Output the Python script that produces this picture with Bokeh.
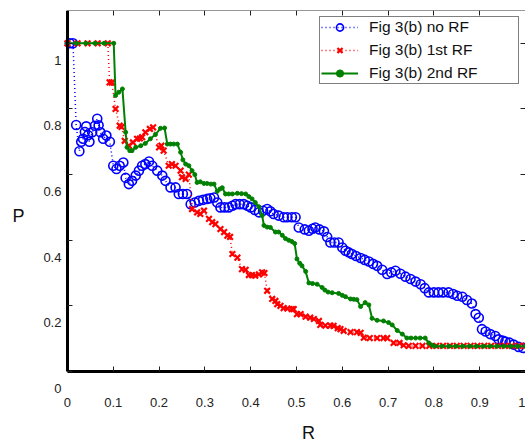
from bokeh.plotting import figure
from bokeh.models import (Range1d, LinearAxis, FixedTicker, Label, Legend, LegendItem)
from bokeh.embed import file_html
from bokeh.resources import INLINE

# ---------------- data ----------------
no_rf = [(0.005, 1.0), (0.012, 1.0), (0.019, 0.751), (0.026, 0.671), (0.030, 0.700),
         (0.034, 0.709), (0.038, 0.730), (0.041, 0.747), (0.045, 0.720), (0.048, 0.700),
         (0.054, 0.729), (0.060, 0.749), (0.065, 0.770), (0.068, 0.750), (0.072, 0.729),
         (0.078, 0.709), (0.085, 0.719), (0.0925, 0.700), (0.100, 0.627), (0.107, 0.617),
         (0.114, 0.627), (0.122, 0.637), (0.127, 0.590), (0.134, 0.571), (0.141, 0.581),
         (0.149, 0.597), (0.156, 0.612), (0.163, 0.627), (0.170, 0.632), (0.178, 0.640),
         (0.185, 0.627), (0.196, 0.612), (0.207, 0.597), (0.214, 0.581), (0.225, 0.561),
         (0.236, 0.561), (0.243, 0.541), (0.252, 0.541), (0.261, 0.541), (0.269, 0.510),
         (0.278, 0.515), (0.287, 0.520), (0.296, 0.523), (0.305, 0.526), (0.312, 0.528),
         (0.320, 0.530), (0.327, 0.515), (0.334, 0.500), (0.343, 0.500), (0.352, 0.500),
         (0.360, 0.505), (0.367, 0.510), (0.376, 0.510), (0.385, 0.510), (0.393, 0.505),
         (0.400, 0.500), (0.409, 0.492), (0.418, 0.485), (0.427, 0.490), (0.436, 0.495),
         (0.443, 0.488), (0.450, 0.480), (0.461, 0.475), (0.472, 0.470), (0.480, 0.470),
         (0.490, 0.470), (0.498, 0.470), (0.505, 0.439), (0.518, 0.433), (0.527, 0.429),
         (0.535, 0.435), (0.541, 0.439), (0.550, 0.433), (0.560, 0.427), (0.567, 0.410),
         (0.574, 0.393), (0.583, 0.393), (0.592, 0.393), (0.600, 0.378), (0.607, 0.368),
         (0.614, 0.363), (0.621, 0.358), (0.630, 0.352), (0.640, 0.346), (0.649, 0.340),
         (0.658, 0.335), (0.667, 0.328), (0.676, 0.322), (0.687, 0.310), (0.698, 0.297),
         (0.707, 0.302), (0.716, 0.307), (0.727, 0.298), (0.738, 0.289), (0.749, 0.282),
         (0.760, 0.274), (0.771, 0.266), (0.780, 0.254), (0.789, 0.241), (0.800, 0.241),
         (0.810, 0.241), (0.820, 0.241), (0.832, 0.241), (0.842, 0.236), (0.851, 0.231),
         (0.862, 0.228), (0.872, 0.218), (0.883, 0.207), (0.891, 0.175), (0.898, 0.164),
         (0.905, 0.129), (0.913, 0.122), (0.923, 0.114), (0.934, 0.108), (0.941, 0.098),
         (0.950, 0.094), (0.956, 0.091), (0.965, 0.088), (0.974, 0.082), (0.985, 0.075),
         (0.995, 0.072)]

rf1 = [(0.0, 1.0), (0.022, 1.0), (0.044, 1.0), (0.066, 1.0), (0.088, 1.0),
       (0.092, 0.881), (0.097, 0.880), (0.105, 0.800), (0.114, 0.749), (0.118, 0.745),
       (0.125, 0.703), (0.134, 0.688), (0.143, 0.698), (0.152, 0.709), (0.158, 0.710),
       (0.163, 0.714), (0.170, 0.729), (0.180, 0.739), (0.187, 0.744), (0.200, 0.683),
       (0.205, 0.688), (0.210, 0.673), (0.221, 0.627), (0.228, 0.632), (0.236, 0.627),
       (0.247, 0.612), (0.250, 0.592), (0.258, 0.587), (0.265, 0.600), (0.272, 0.495),
       (0.283, 0.485), (0.290, 0.480), (0.298, 0.490), (0.309, 0.465), (0.316, 0.455),
       (0.323, 0.449), (0.334, 0.434), (0.342, 0.425), (0.349, 0.414), (0.355, 0.410),
       (0.360, 0.358), (0.371, 0.347), (0.381, 0.312), (0.389, 0.310), (0.396, 0.294),
       (0.403, 0.294), (0.410, 0.292), (0.418, 0.296), (0.425, 0.302), (0.430, 0.300),
       (0.436, 0.246), (0.447, 0.221), (0.454, 0.215), (0.458, 0.205), (0.465, 0.200),
       (0.472, 0.193), (0.480, 0.192), (0.490, 0.190), (0.494, 0.190), (0.501, 0.175),
       (0.509, 0.175), (0.520, 0.167), (0.530, 0.164), (0.538, 0.160), (0.549, 0.154),
       (0.552, 0.142), (0.563, 0.140), (0.574, 0.140), (0.581, 0.139), (0.590, 0.132),
       (0.596, 0.129), (0.603, 0.124), (0.618, 0.120), (0.632, 0.120), (0.640, 0.118),
       (0.647, 0.103), (0.660, 0.102), (0.676, 0.102), (0.690, 0.102), (0.698, 0.102),
       (0.712, 0.087), (0.725, 0.087), (0.734, 0.080), (0.745, 0.078), (0.760, 0.078),
       (0.775, 0.078), (0.790, 0.078), (0.805, 0.078), (0.820, 0.078), (0.835, 0.078),
       (0.850, 0.078), (0.865, 0.078), (0.880, 0.078), (0.895, 0.078), (0.910, 0.078),
       (0.925, 0.078), (0.940, 0.078), (0.955, 0.078), (0.970, 0.078), (0.985, 0.078),
       (1.0, 0.078)]

rf2 = [(0.0, 1.0), (0.020, 1.0), (0.040, 1.0), (0.060, 1.0), (0.080, 1.0), (0.101, 1.0),
       (0.105, 0.841), (0.112, 0.851), (0.120, 0.861), (0.127, 0.729), (0.130, 0.683),
       (0.136, 0.673), (0.141, 0.673), (0.149, 0.683), (0.160, 0.688), (0.170, 0.695),
       (0.181, 0.709), (0.192, 0.722), (0.203, 0.741), (0.212, 0.742), (0.218, 0.693),
       (0.225, 0.693), (0.232, 0.693), (0.240, 0.693), (0.247, 0.668), (0.252, 0.645),
       (0.258, 0.632), (0.265, 0.627), (0.272, 0.612), (0.278, 0.600), (0.283, 0.576),
       (0.290, 0.578), (0.298, 0.573), (0.305, 0.573), (0.313, 0.571), (0.320, 0.571),
       (0.327, 0.549), (0.333, 0.556), (0.338, 0.560), (0.345, 0.541), (0.352, 0.541),
       (0.360, 0.541), (0.371, 0.543), (0.380, 0.542), (0.389, 0.541), (0.396, 0.533),
       (0.403, 0.526), (0.410, 0.515), (0.418, 0.502), (0.425, 0.475), (0.429, 0.445),
       (0.436, 0.440), (0.443, 0.439), (0.454, 0.425), (0.461, 0.425), (0.469, 0.415),
       (0.476, 0.405), (0.483, 0.400), (0.490, 0.396), (0.496, 0.390), (0.501, 0.343),
       (0.507, 0.330), (0.512, 0.322), (0.520, 0.305), (0.527, 0.270), (0.535, 0.268),
       (0.545, 0.266), (0.556, 0.256), (0.562, 0.248), (0.569, 0.242), (0.578, 0.240),
       (0.592, 0.238), (0.600, 0.232), (0.607, 0.228), (0.618, 0.221), (0.625, 0.220),
       (0.632, 0.219), (0.640, 0.198), (0.650, 0.210), (0.658, 0.203), (0.665, 0.162),
       (0.676, 0.156), (0.690, 0.154), (0.701, 0.149), (0.709, 0.142), (0.720, 0.125),
       (0.731, 0.114), (0.741, 0.102), (0.750, 0.102), (0.760, 0.102), (0.770, 0.102),
       (0.781, 0.102), (0.789, 0.087), (0.796, 0.080), (0.803, 0.077), (0.818, 0.077),
       (0.833, 0.077), (0.848, 0.077), (0.863, 0.077), (0.878, 0.077), (0.893, 0.077),
       (0.908, 0.077), (0.923, 0.077), (0.938, 0.077), (0.953, 0.077), (0.968, 0.077),
       (0.983, 0.077), (1.0, 0.077)]

series_names = ["Fig 3(b) no RF", "Fig 3(b) 1st RF", "Fig 3(b) 2nd RF"]
x_ticks = [0.0, 0.1, 0.2, 0.3, 0.4, 0.5, 0.6, 0.7, 0.8, 0.9, 1.0]
x_tick_labels = ["0", "0.1", "0.2", "0.3", "0.4", "0.5", "0.6", "0.7", "0.8", "0.9", "1"]
y_ticks = [0.0, 0.2, 0.4, 0.6, 0.8, 1.0]
y_tick_labels = ["0", "0.2", "0.4", "0.6", "0.8", "1"]
x_title = "R"
y_title = "P"

FONT = "Liberation Sans"
X0, X1 = 0.0, 1.0      # axes box, data units
Y0, Y1 = 0.0, 1.1

# the frame covers the whole canvas below the top border; the axes box is drawn
# with fixed-location axes so that the outside texts stay inside the frame
p = figure(width=525, height=446, x_range=Range1d(-0.1462, X1), y_range=Range1d(-0.2285, Y1),
           output_backend="svg", toolbar_location=None,
           x_axis_location=None, y_axis_location=None,
           min_border_left=0, min_border_right=0, min_border_top=10, min_border_bottom=0)
p.outline_line_color = None
p.xgrid.grid_line_color = None
p.ygrid.grid_line_color = None
p.background_fill_color = "white"
p.border_fill_color = "white"

def box_axis(ticks, bounds, loc, **kw):
    ax = LinearAxis(ticker=FixedTicker(ticks=ticks), bounds=bounds, fixed_location=loc,
                    major_tick_in=5, major_tick_out=0, minor_tick_line_color=None,
                    major_tick_line_color="#222222", **kw)
    return ax

hidden = dict(major_label_text_font_size="1px", major_label_text_color=None,
              major_label_standoff=0)

bottom = box_axis(x_ticks, (X0, X1), Y0, axis_line_width=3, axis_line_color="black",
                  major_label_standoff=26, major_label_text_font=FONT,
                  major_label_text_font_size="13px", major_label_text_color="#222222",
                  major_label_overrides={t: s for t, s in zip(x_ticks, x_tick_labels)})
p.add_layout(bottom, "below")
left = box_axis(y_ticks, (Y0, Y1), X0, axis_line_width=3, axis_line_color="black", **hidden)
p.add_layout(left, "left")
top = box_axis(x_ticks, (X0, X1), Y1, axis_line_width=1.2, axis_line_color="#333333", **hidden)
p.add_layout(top, "above")
right = box_axis(y_ticks, (Y0, Y1), X1, axis_line_color=None, **hidden)
p.add_layout(right, "right")

def split(pts):
    return [a for a, b in pts], [b for a, b in pts]

bx, by = split(no_rf)
r1x, r1y = split(rf1)
r2x, r2y = split(rf2)

l0 = p.line(bx, by, line_color="#0000FF", line_width=1.5, line_dash="1 3")
m0 = p.scatter(bx, by, marker="circle", size=9, fill_color=None,
               line_color="#0000FF", line_width=1.6)
l1 = p.line(r1x, r1y, line_color="#FF0000", line_width=1.5, line_dash="1 3")
m1 = p.scatter(r1x, r1y, marker="x", size=8, line_color="#FF0000", line_width=2.2)
l2 = p.line(r2x, r2y, line_color="#008000", line_width=2)
m2 = p.scatter(r2x, r2y, marker="circle", size=4, fill_color="#008000",
               line_color="#008000")

legend = Legend(items=[LegendItem(label=series_names[0], renderers=[l0, m0]),
                       LegendItem(label=series_names[1], renderers=[l1, m1]),
                       LegendItem(label=series_names[2], renderers=[l2, m2])],
                location="top_right", margin=6, padding=1, spacing=5,
                glyph_width=37, glyph_height=18, label_height=18, label_width=148,
                label_standoff=11, label_text_font=FONT, label_text_font_size="15.5px",
                label_text_color="#111111",
                border_line_color="black", border_line_width=1.5,
                background_fill_color="white", background_fill_alpha=1.0)
p.add_layout(legend)

# y tick labels (drawn slightly below their ticks, as in the original)
for v, s in zip(y_ticks, y_tick_labels):
    p.add_layout(Label(x=X0, y=v, x_offset=-6, y_offset=-17, text=s,
                       text_align="right", text_baseline="middle",
                       text_font=FONT, text_font_size="13px", text_color="#222222"))

p.add_layout(Label(x=X0, y=0.475, x_offset=-49, text=y_title, text_align="center",
                   text_baseline="middle", text_font=FONT, text_font_size="18px",
                   text_color="#111111"))
p.add_layout(Label(x=0.526, y=Y0, y_offset=-61, text=x_title, text_align="center",
                   text_baseline="middle", text_font=FONT, text_font_size="18px",
                   text_color="#111111"))

open("out.html", "w").write(file_html(p, INLINE))
